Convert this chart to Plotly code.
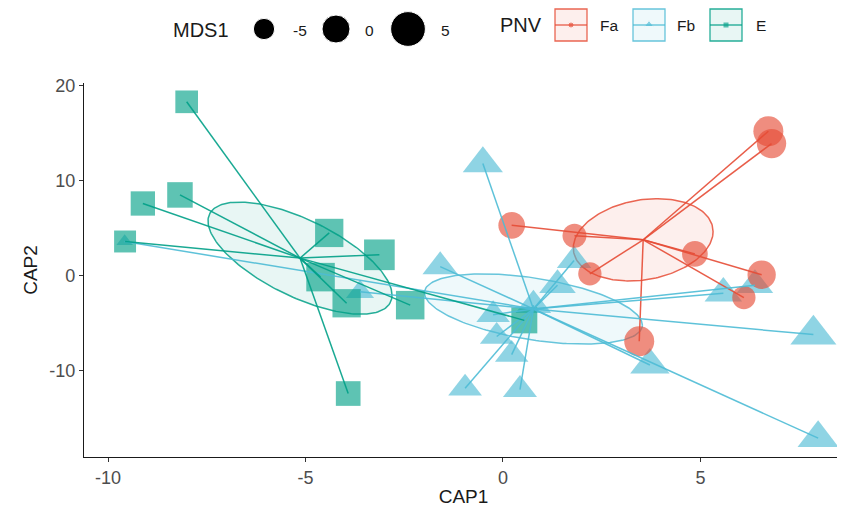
import numpy as np
import plotly.graph_objects as go

# CAP scores, one list per PNV group
fa_cap1 = [6.72, 6.80, 0.22, 1.81, 2.20, 4.86, 6.55, 6.10, 3.45]
fa_cap2 = [15.2, 13.9, 5.3, 4.2, 0.2, 2.3, 0.1, -2.3, -6.9]
fa_mds1 = [1.5, 1.0, -1.0, -3.0, -3.5, -1.7, 0.2, -3.5, 1.5]

fb_cap1 = [-0.51, -1.59, 1.80, 1.38, -0.25, -0.16, 0.22, 0.77, -0.96, 0.43,
           3.72, 5.58, 6.38, 7.86, 7.98, -9.58, -3.62]
fb_cap2 = [11.8, 0.95, 1.6, -1.0, -4.1, -6.4, -8.3, -3.1, -11.85, -12.0,
           -9.4, -1.85, -1.0, -6.2, -17.1, 3.6, -1.7]
fb_mds1 = [0.4, -2.1, -2.6, -1.5, -3.1, -3.1, -3.1, -2.0, -3.0, -2.8,
           0.0, -1.0, -1.5, 3.5, 0.9, -12.0, -6.0]

e_cap1 = [-8.01, -8.18, -9.12, -9.57, -4.40, -3.13, -4.62, -3.96, -2.35, -3.92, 0.54]
e_cap2 = [18.3, 8.5, 7.6, 3.6, 4.5, 2.2, -0.15, -2.9, -3.1, -12.4, -4.7]
e_mds1 = [-1.8, 0.6, -0.4, -2.4, 2.9, 4.9, 3.1, 2.9, 3.1, -0.1, 1.0]

# group centroids and standard-error ellipses (half extents along CAP1/CAP2, correlation)
groups = ["Fa", "Fb", "E"]
cent_cap1 = [3.55, 0.77, -5.14]
cent_cap2 = [3.78, -3.5, 1.85]
ell_h1 = [1.77, 2.76, 2.33]
ell_h2 = [4.33, 3.7, 5.9]
ell_rho = [0.2, -0.46, -0.66]

mds1_breaks = [-5, 0, 5]
x_ticks = [-10, -5, 0, 5]
x_ticktext = ["-10", "-5", "0", "5"]
y_ticks = [-10, 0, 10, 20]
y_ticktext = ["-10", "0", "10", "20"]

colors = {"Fa": "230,75,53", "Fb": "77,187,213", "E": "0,160,135"}
symbols = {"Fa": "circle", "Fb": "triangle-up", "E": "square"}
shape_k = {"circle": 1.0, "square": 0.886, "triangle-up": 1.22}

pts = {
    "Fa": (fa_cap1, fa_cap2, fa_mds1),
    "Fb": (fb_cap1, fb_cap2, fb_mds1),
    "E": (e_cap1, e_cap2, e_mds1),
}


def msize(m, sym="circle"):
    return (28 + 1.35 * np.asarray(m)) * shape_k[sym]


def rgba(g, a):
    return "rgba(%s,%s)" % (colors[g], a)


fig = go.Figure()

# ellipses
t = np.linspace(0, 2 * np.pi, 200)
for i, g in enumerate(groups):
    r = ell_rho[i]
    ex = cent_cap1[i] + ell_h1[i] * np.cos(t)
    ey = cent_cap2[i] + ell_h2[i] * (r * np.cos(t) + np.sqrt(1 - r * r) * np.sin(t))
    fig.add_trace(go.Scatter(x=ex, y=ey, mode="lines", fill="toself",
                             fillcolor=rgba(g, 0.09),
                             line=dict(color=rgba(g, 0.85), width=1.5),
                             hoverinfo="skip", showlegend=False))

# points (Fb underneath, then Fa, then E)
for g in ["Fb", "Fa", "E"]:
    x, y, m = pts[g]
    sym = symbols[g]
    fig.add_trace(go.Scatter(x=x, y=y, mode="markers", name=g, showlegend=False,
                             marker=dict(symbol=sym, size=msize(m, sym),
                                         color=rgba(g, 0.9), line=dict(width=0))))

# spiders from centroid to each site
for i, g in enumerate(groups):
    x, y, m = pts[g]
    sx, sy = [], []
    for a, b in zip(x, y):
        sx += [cent_cap1[i], a, None]
        sy += [cent_cap2[i], b, None]
    fig.add_trace(go.Scatter(x=sx, y=sy, mode="lines", showlegend=False,
                             line=dict(color=rgba(g, 0.9), width=1.5),
                             hoverinfo="skip"))

# ---- legend drawn on an overlay axis (units = page pixels, top band) ----
W, H = 837, 504          # page body has an 8px margin, so the figure is shrunk by that
PAPER_H = H - 55
leg_y = 29
fig.add_trace(go.Scatter(x=[264, 336, 408], y=[leg_y] * 3, mode="markers",
                         xaxis="x2", yaxis="y2", showlegend=False, hoverinfo="skip",
                         marker=dict(symbol="circle", color="#000000", opacity=1,
                                     size=msize(mds1_breaks))))
key_x = [571, 649, 726]
for g, kx in zip(groups, key_x):
    fig.add_shape(type="rect", xref="x2", yref="y2", x0=kx - 16, x1=kx + 16, y0=9, y1=41,
                  line=dict(color=rgba(g, 0.85), width=1.3), fillcolor=rgba(g, 0.09))
    fig.add_shape(type="line", xref="x2", yref="y2", x0=kx - 16, x1=kx + 16, y0=25, y1=25,
                  line=dict(color=rgba(g, 0.9), width=1.3))
fig.add_trace(go.Scatter(x=key_x, y=[25, 24.5, 25], mode="markers",
                         xaxis="x2", yaxis="y2", showlegend=False, hoverinfo="skip",
                         marker=dict(symbol=[symbols[g] for g in groups],
                                     color=[rgba(g, 0.9) for g in groups],
                                     size=[6, 8, 6])))

font = "Liberation Sans, Arial, sans-serif"
ann = [
    ("MDS1", 201, 30, "center", 20),
    ("-5", 300, 30, "center", 15.5),
    ("0", 369, 30, "center", 15.5),
    ("5", 445, 30, "center", 15.5),
    ("PNV", 521, 25, "center", 20),
    ("Fa", 598, 25, "left", 15.5),
    ("Fb", 675, 25, "left", 15.5),
    ("E", 754, 25, "left", 15.5),
]
for txt, ax, ay, anc, fs in ann:
    fig.add_annotation(text=txt, x=ax, y=ay, xref="x2", yref="y2", showarrow=False,
                       xanchor=anc, yanchor="middle",
                       font=dict(size=fs, color="#1a1a1a", family=font))

axis_common = dict(showgrid=False, zeroline=False, showline=True, linecolor="#1a1a1a",
                   linewidth=1.2, ticks="outside", ticklen=4, tickcolor="#333333",
                   tickwidth=1.2, automargin=False,
                   tickfont=dict(size=18, color="#4d4d4d", family=font))

fig.update_layout(
    width=W, height=H,
    margin=dict(l=76, r=2, t=0, b=55),
    plot_bgcolor="white", paper_bgcolor="white",
    font=dict(family=font),
    showlegend=False,
    xaxis=dict(range=[-10.61, 8.61], tickvals=x_ticks, ticktext=x_ticktext,
               title=dict(text="CAP1", font=dict(size=19, color="#1a1a1a"), standoff=2),
               **axis_common),
    yaxis=dict(range=[-19.08, 20.28], tickvals=y_ticks, ticktext=y_ticktext,
               domain=[0, 374 / PAPER_H],
               title=dict(text="CAP2", font=dict(size=19, color="#1a1a1a"), standoff=6),
               **axis_common),
    xaxis2=dict(domain=[0, 1], range=[84, 843], visible=False, anchor="y2"),
    yaxis2=dict(domain=[1 - 65 / PAPER_H, 1], range=[73, 8], visible=False, anchor="x2"),
)

fig.write_html("out.html")
